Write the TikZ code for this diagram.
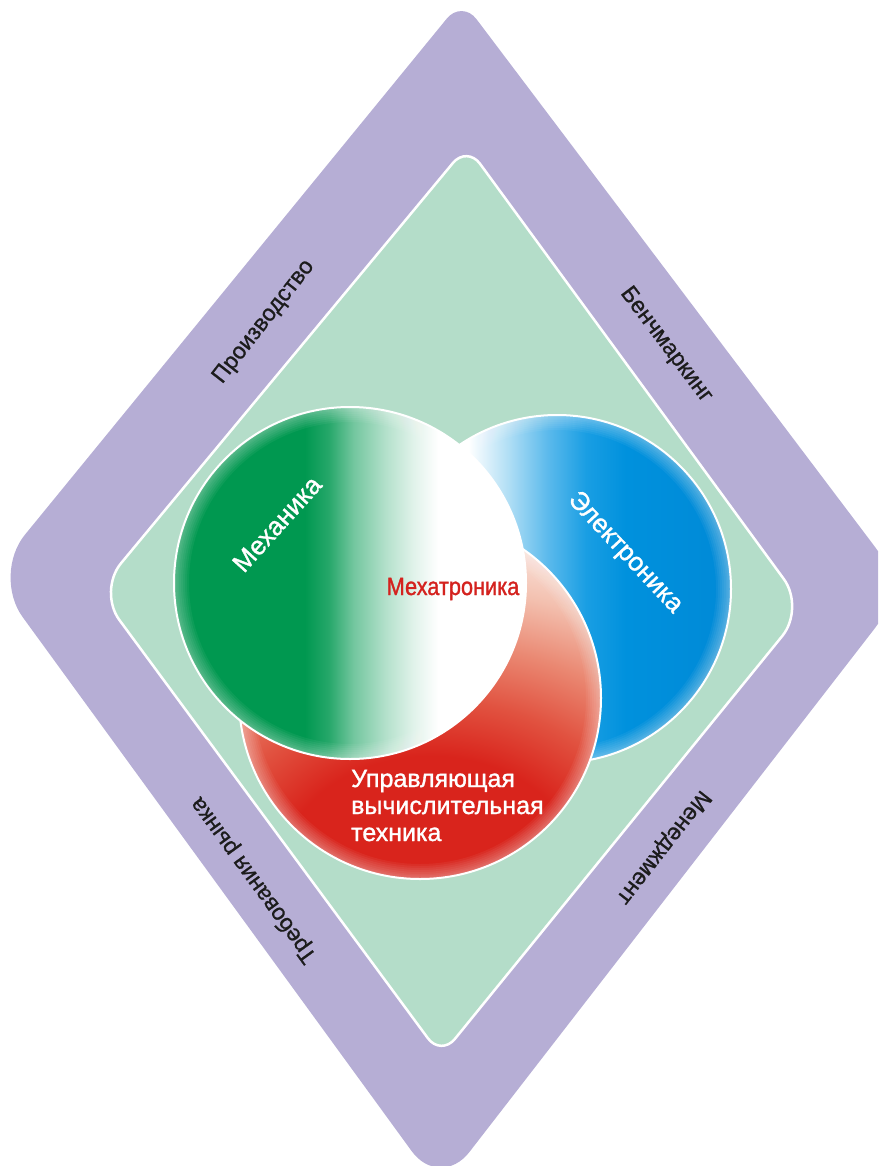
\documentclass[tikz,border=0pt]{standalone}
\usepackage{fontspec}
\setmainfont{Liberation Sans}
\newfontfamily\bandsans[FakeBold=0.8]{Liberation Sans}
\newfontfamily\discsans[FakeBold=1.2]{Liberation Sans}
\newfontfamily\coresans[FakeStretch=0.87,FakeBold=1.2]{Liberation Sans}

% palette
\definecolor{bandviolet}{RGB}{182,174,213}
\definecolor{fieldgreen}{RGB}{180,221,201}
\definecolor{labelink}{RGB}{28,28,28}
\definecolor{coreRed}{RGB}{212,34,30}
\definecolor{mechgreen}{RGB}{0,152,80}
\colorlet{mechgreenA}{mechgreen!85!white}
\colorlet{mechgreenB}{mechgreen!55!white}
\colorlet{mechgreenC}{mechgreen!30!white}
\colorlet{mechgreenD}{mechgreen!12!white}
\definecolor{elecA}{RGB}{178,223,245}
\definecolor{elecB}{RGB}{92,186,236}
\definecolor{elecC}{RGB}{25,158,227}
\definecolor{elecblue}{RGB}{0,145,221}
\definecolor{elecdeep}{RGB}{0,132,210}
\definecolor{ctrlred}{RGB}{217,36,28}
\definecolor{ctrlredA}{RGB}{225,82,64}
\definecolor{ctrlredB}{RGB}{234,136,114}
\definecolor{ctrlredC}{RGB}{243,192,175}
\definecolor{ctrlredD}{RGB}{251,234,228}

% colour fades of the three discs (stops set for the enlargement \shade applies)
\pgfdeclarehorizontalshading{mechfade}{100bp}{color(0bp)=(mechgreen); color(43.6bp)=(mechgreen);
  color(47bp)=(mechgreenA); color(50.5bp)=(mechgreenB); color(55bp)=(mechgreenC);
  color(59bp)=(mechgreenD); color(62.5bp)=(white); color(100bp)=(white)}
\pgfdeclarehorizontalshading{elecfade}{100bp}{color(0bp)=(white); color(37.3bp)=(white);
  color(42.9bp)=(elecA); color(48.6bp)=(elecB); color(54.2bp)=(elecC); color(59.9bp)=(elecblue);
  color(85.4bp)=(elecdeep); color(100bp)=(elecdeep)}
\pgfdeclareradialshading{ctrlfade}{\pgfpoint{0bp}{0bp}}{color(0bp)=(ctrlred); color(5.7bp)=(ctrlred);
  color(8.5bp)=(ctrlredA); color(11.3bp)=(ctrlredB); color(14.1bp)=(ctrlredC); color(17bp)=(ctrlredD);
  color(19.1bp)=(white); color(50bp)=(white)}

\tikzset{
  bandlabel/.style={text=labelink, inner sep=0pt, font=\bandsans\fontsize{23pt}{25pt}\selectfont},
  disclabel/.style={text=white, inner sep=0pt, font=\discsans\fontsize{26pt}{28pt}\selectfont},
  ctrlline/.style={text=white, inner sep=0pt, anchor=base west, font=\discsans\fontsize{25pt}{27pt}\selectfont},
  discrim/.style={draw=white, line width=2pt},
}

% soft white glow along the inside of a disc
\newcommand\discglow[2]{%
  \foreach \w in {30,26,22,18,14,10,7,4}
    \draw[white, opacity=0.05, line width=\w pt] (#1) circle[radius=#2];}

\begin{document}
\begin{tikzpicture}[x=1pt, y=-1pt]
\useasboundingbox (0,0) rectangle (878,1166);
\clip (0,0) rectangle (878,1166);

% outer violet frame
\fill[bandviolet] (684,294) [rounded corners=50pt] -- (906,588)
  [rounded corners=48pt] -- (440,1190) [rounded corners=52pt] -- (-8,575)
  [rounded corners=24pt] -- (462,0) -- cycle;

% inner green field
\filldraw[fill=fieldgreen, draw=white, line width=2.5pt]
  (636,377) [rounded corners=36pt] -- (805,608) [rounded corners=22pt] -- (441,1056)
  [rounded corners=36pt] -- (98,591) [rounded corners=22pt] -- (467,146) -- cycle;

% disc centres
\coordinate (cE) at (557,589);
\coordinate (cC) at (420,698);
\coordinate (cM) at (350,583);

% Электроника disc
\begin{scope}
  \clip (cE) circle[radius=174pt];
  \shade[shading=elecfade] (383,415) rectangle (731,763);
  \discglow{cE}{174pt}
\end{scope}
\draw[discrim] (cE) circle[radius=174pt];

% Управляющая вычислительная техника disc
\begin{scope}
  \clip (cC) circle[radius=181pt];
  \shade[shading=ctrlfade] (-220,370) rectangle (1080,1370);
  \discglow{cC}{181pt}
\end{scope}
\draw[discrim] (cC) circle[radius=181pt];

% Механика disc
\begin{scope}
  \clip (cM) circle[radius=176pt];
  \shade[shading=mechfade] (174,407) rectangle (526,759);
  \discglow{cM}{176pt}
\end{scope}
\draw[discrim] (cM) circle[radius=176pt];

% frame labels
\node[bandlabel, rotate=52]   (prod)   at (264,322) {Производство};
\node[bandlabel, rotate=-53]  (bench)  at (666,345) {Бенчмаркинг};
\node[bandlabel, rotate=126]  (market) at (254,880) {Требования рынка};
\node[bandlabel, rotate=-128] (mgmt)   at (663,847) {Менеджмент};

% disc labels
\node[disclabel, rotate=48]  (mech) at (277,524) {Механика};
\node[disclabel, rotate=-47] (elec) at (625,553) {Электроника};
\node[text=coreRed, inner sep=0pt, anchor=base,
      font=\coresans\fontsize{25pt}{27pt}\selectfont] (core) at (453,595) {Мехатроника};
\node[ctrlline] (ctrlA) at (351,787) {Управляющая};
\node[ctrlline] (ctrlB) at (351,814) {вычислительная};
\node[ctrlline] (ctrlC) at (351,841) {техника};
\end{tikzpicture}
\end{document}
